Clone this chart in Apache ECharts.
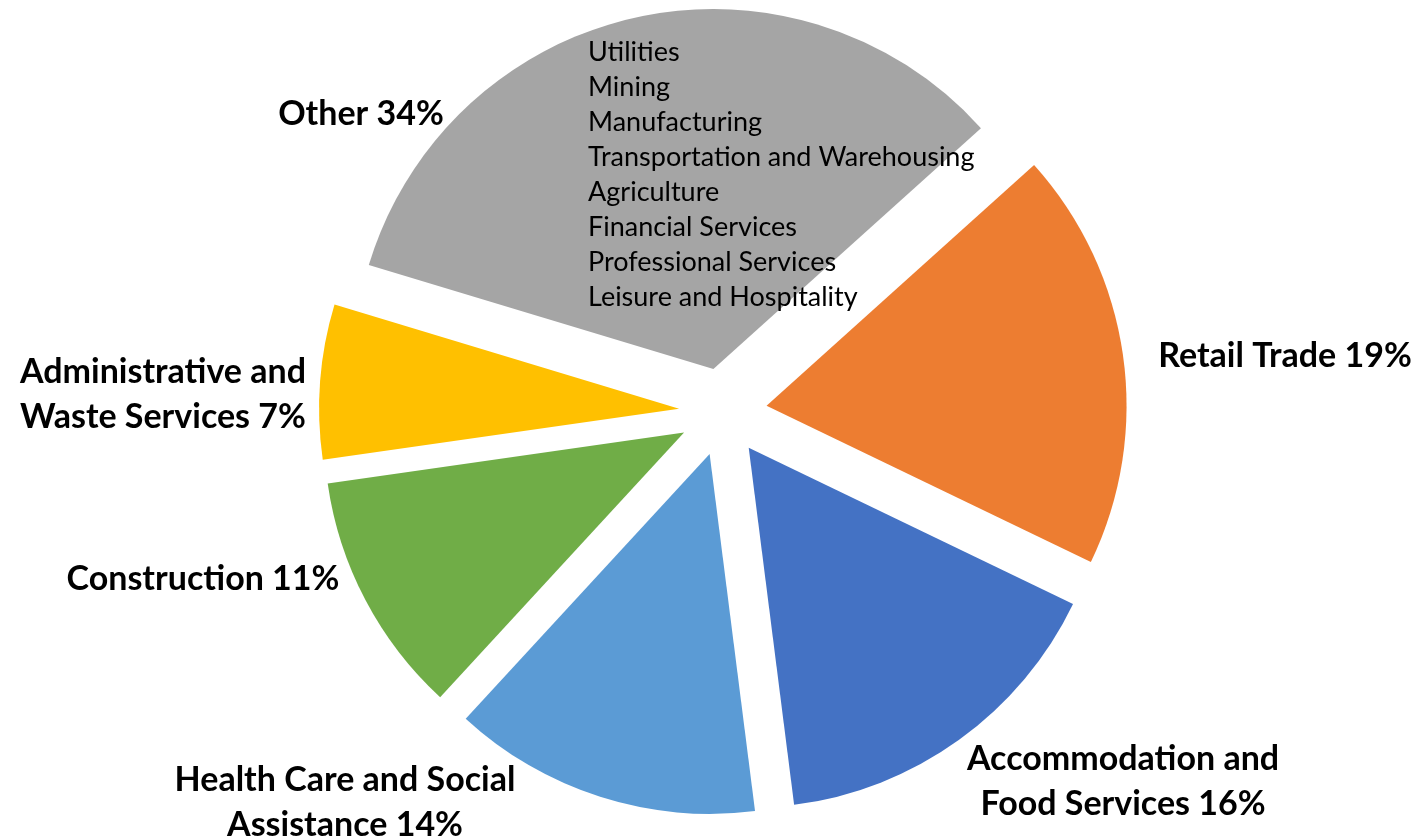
<!DOCTYPE html>
<html>
<head>
<meta charset="utf-8">
<script src="https://cdn.jsdelivr.net/npm/echarts@6/dist/echarts.min.js"></script>
<style>
  html, body { margin: 0; padding: 0; background: #fff; }
  #pie-chart { width: 1418px; height: 839px; }
</style>
</head>
<body>
<div id="pie-chart"></div>
<script>
// sectors, clockwise starting from the right side of the gray slice
const sectors = ['Retail Trade', 'Accommodation and\nFood Services', 'Health Care and Social\nAssistance', 'Construction', 'Administrative and\nWaste Services', 'Other']
const shares = [19, 16, 14, 11, 7, 34]
const sectorColors = ['#ED7D31', '#4472C4', '#5B9BD5', '#70AD47', '#FFC000', '#A5A5A5']
// industries grouped inside "Other"
const otherItems = ['Utilities', 'Mining', 'Manufacturing', 'Transportation and Warehousing', 'Agriculture', 'Financial Services', 'Professional Services', 'Leisure and Hospitality']

// where excel put each data label (label centre, px)
const labelSpots = [[1285, 356], [1123, 782], [345, 803], [203, 579], [163, 395], [361, 114]]

const chart = echarts.init(document.getElementById('pie-chart'))

// data labels, text taken from the series arrays
const labelTexts = sectors.map((s, i) => ({
  type: 'text',
  x: labelSpots[i][0],
  y: labelSpots[i][1],
  z: 100,
  style: {
    text: s + ' ' + shares[i] + '%',
    font: 'bold 34px Lato',
    lineHeight: 45,
    fill: '#000',
    align: 'center',
    verticalAlign: 'middle'
  }
}))

const option = {
  animation: false,
  backgroundColor: '#fff',
  textStyle: { fontFamily: 'Lato' },
  graphic: [{
    type: 'text',
    left: 588,
    top: 35,
    z: 100,
    style: {
      text: otherItems.join('\n'),
      font: '27px Lato',
      lineHeight: 35,
      fill: '#000'
    }
  }].concat(labelTexts),
  series: [{
    type: 'pie',
    center: [723, 412],
    radius: [0, 360],
    startAngle: 42,
    clockwise: true,
    selectedMode: 'multiple',
    selectedOffset: 44,
    emphasis: { disabled: true },
    label: { show: false },
    labelLine: { show: false },
    data: sectors.map((s, i) => ({
      name: s,
      value: shares[i],
      selected: true,
      itemStyle: { color: sectorColors[i] }
    }))
  }]
}

chart.setOption(option)
</script>
</body>
</html>
